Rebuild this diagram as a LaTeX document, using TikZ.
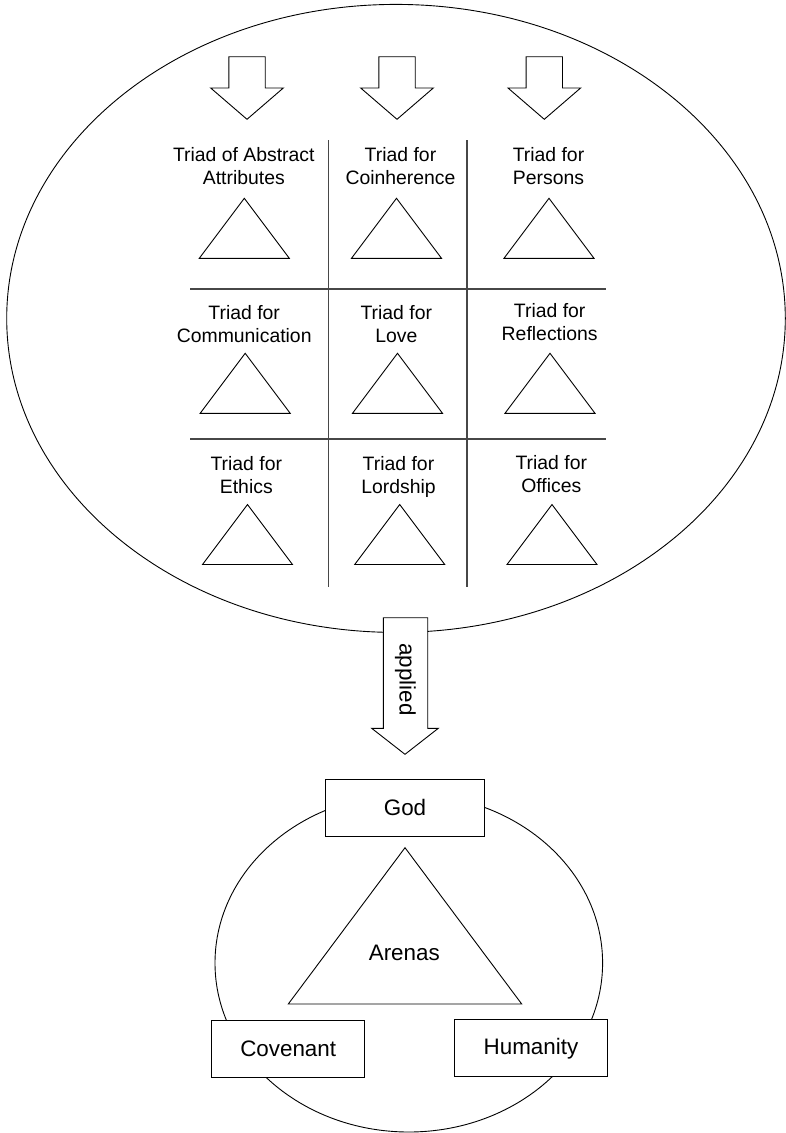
\documentclass[tikz,border=0pt]{standalone}
\usepackage{fontspec}
\setmainfont{Liberation Sans}
\begin{document}
\begin{tikzpicture}[x=1pt,y=-1pt,
  thinline/.style={draw=black,line width=0.9pt},
  gridline/.style={draw=black!72,line width=1.4pt},
  blockarrow/.style={draw=black,line width=0.9pt,fill=white,line join=miter},
  triadtxt/.style={font=\fontsize{19.4}{23}\selectfont,align=center,anchor=base,inner sep=0pt},
  bigtxt/.style={font=\fontsize{22.4}{26}\selectfont,inner sep=0pt},
  arenabox/.style={draw=black,line width=0.9pt,fill=white,minimum width=153pt,minimum height=57pt,inner sep=0pt,font=\fontsize{22.4}{26}\selectfont}
]
\useasboundingbox (0,0) rectangle (786,1133);

% large ellipse
\draw[thinline] (396,318.4) ellipse [x radius=389.3, y radius=314];

% top block arrows
\foreach \cx/\nm in {247/a1,397/a2,544.3/a3}{
  \draw[blockarrow] (\cx-18.2,56.7) -- (\cx+18.2,56.7) -- (\cx+18.2,88) -- (\cx+36.3,88)
     -- (\cx,119.3) -- (\cx-36.3,88) -- (\cx-18.2,88) -- cycle;
}

% grid
\draw[gridline] (328.3,140) -- (328.3,587.3);
\draw[gridline] (466.8,140) -- (466.8,587.3);
\draw[gridline] (190,288.8) -- (605.5,288.8);
\draw[gridline] (190,439) -- (605.5,439);

% texts (anchored at the baseline of the second line)
\node[triadtxt] (t11) at (243.8,184.3) {Triad of Abstract\\Attributes};
\node[triadtxt] (t12) at (400.5,184.3) {Triad for\\Coinherence};
\node[triadtxt] (t13) at (548.5,184.3) {Triad for\\Persons};
\node[triadtxt] (t21) at (244.2,342.5) {Triad for\\Communication};
\node[triadtxt] (t22) at (396.3,342.5) {Triad for\\Love};
\node[triadtxt] (t23) at (549.7,340.3) {Triad for\\Reflections};
\node[triadtxt] (t31) at (246.3,493.8) {Triad for\\Ethics};
\node[triadtxt] (t32) at (398.5,493.8) {Triad for\\Lordship};
\node[triadtxt] (t33) at (551.3,492) {Triad for\\Offices};

% small triangles
\foreach \ax/\ay in {244.3/198.3,396.5/198.3,549/198.3,
                     245.2/353.3,397.5/353.3,550/353.3,
                     247.5/504.5,399.7/504.5,552/504.5}{
  \draw[thinline,line join=miter] (\ax,\ay) -- (\ax+45,\ay+60) -- (\ax-45,\ay+60) -- cycle;
}

% applied arrow
\draw[blockarrow] (383.3,617.7) -- (427.7,617.7) -- (427.7,728.3) -- (438.3,728.3)
   -- (405,754.3) -- (371.7,728.3) -- (383.3,728.3) -- cycle;
\node[bigtxt,rotate=-90] (applied) at (405.5,679.5) {applied};

% bottom part
\draw[thinline] (408.8,963) ellipse [x radius=193.8, y radius=169];
\draw[thinline,line join=miter] (405,847.7) -- (521.7,1004) -- (288.3,1004) -- cycle;
\node[bigtxt] (arenas) at (404.3,953.3) {Arenas};
\node[arenabox,minimum width=158.6pt] (god) at (405,807.8) {God};
\node[arenabox] (covenant) at (288.2,1048.5) {Covenant};
\node[arenabox] (humanity) at (531,1048.3) {Humanity};
\end{tikzpicture}
\end{document}
